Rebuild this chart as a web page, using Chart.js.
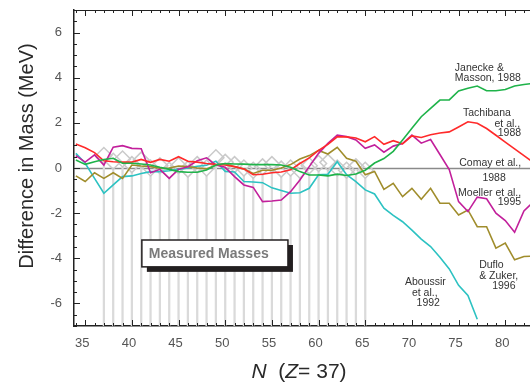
<!DOCTYPE html>
<html>
<head>
<meta charset="utf-8">
<script src="https://cdn.jsdelivr.net/npm/chart.js@4.4.1/dist/chart.umd.min.js"></script>
<style>
  html, body { margin: 0; padding: 0; background: #fff; }
</style>
</head>
<body>
<canvas id="myChart" width="530" height="387"></canvas>
<script>
// neutron number N (Z = 37)
var nValues = [34,35,36,37,38,39,40,41,42,43, 44,45,46,47,48,49,50,51,52,53,
               54,55,56,57,58,59,60,61,62,63, 64,65,66,67,68,69,70,71,72,73,
               74,75,76,77,78,79,80,81,82,83];

// mass differences (MeV)
var tachibana = [1.06,0.9,0.68,0.32,0.28,0.26,0.26,0.38,0.25,0.38,
                 0.3,0.5,0.3,0.26,0.2,0.16,0.13,0.06,-0.04,-0.3,
                 -0.28,-0.21,-0.18,-0.08,0.2,0.45,0.78,1.05,1.38,1.38,
                 1.33,1.16,1.39,1.05,1.21,1.07,1.42,1.35,1.47,1.55,
                 1.6,1.82,2.05,1.98,1.75,1.45,1.15,0.85,0.55,0.25];
var janecke = [0.35,0.16,0.28,0.38,0.43,0.21,0.21,0.18,0.13,0.03,
               -0.06,-0.16,-0.19,-0.19,-0.09,0.13,0.2,0.18,0.17,0.15,
               0.15,0.15,0.13,0.03,-0.16,-0.31,-0.31,-0.35,-0.27,-0.33,
               -0.27,-0.1,0.22,0.42,0.74,1.24,1.76,2.27,2.64,3.01,
               3.02,3.41,3.53,3.63,3.42,3.42,3.48,3.63,3.7,3.75];
var moeller = [0.55,0.26,0.58,0.13,0.92,0.99,0.87,0.85,-0.21,-0.06,
               -0.46,-0.06,0.06,0.32,0.45,0.13,0.03,-0.38,-0.75,-0.86,
               -1.49,-1.46,-1.42,-1.05,-0.53,0.06,0.65,1.09,1.46,1.39,
               1.24,0.87,1.02,0.7,0.97,1.08,1.46,1.1,1.26,0.6,
               -0.07,-1.49,-1.93,-1.29,-1.36,-2.0,-2.33,-2.85,-1.9,-1.5];
var duflo = [-0.35,-0.6,-0.21,-0.46,-0.21,-0.46,0.13,0.09,0.06,-0.01,
             0.0,0.09,0.06,0.0,-0.04,0.13,0.2,0.06,-0.04,-0.24,
             -0.1,-0.1,0.0,0.15,0.4,0.55,0.78,0.62,0.92,0.43,
             0.3,-0.3,-0.15,-0.95,-0.68,-1.27,-0.9,-1.39,-0.9,-1.56,
             -1.56,-2.08,-1.86,-2.6,-2.6,-3.55,-3.33,-4.07,-3.92,-3.9];
var aboussir = [0.65,0.21,-0.46,-1.12,-0.75,-0.38,-0.35,-0.24,-0.16,-0.16,
                -0.12,-0.06,0.0,0.08,0.12,0.3,-0.15,-0.18,-0.6,-0.62,
                -0.65,-0.88,-1.0,-1.12,-1.1,-0.9,-0.3,-0.28,0.28,-0.3,
                -0.6,-0.97,-1.15,-1.78,-2.1,-2.38,-2.75,-3.15,-3.48,-3.95,
                -4.47,-5.2,-5.65,-6.7,null,null,null,null,null,null];

// measured masses (grey diamonds)
var measuredN = [37,38,39,40,41,42,43,44,45,46,47,48,49,50,51,52,53,54,55,56,
                 57,58,59,60,61,62,63,64,65];
var measuredDiff = [0.55,0.3,0.4,0.15,0.35,0.0,0.1,-0.1,0.1,-0.05,
                    0.15,0.0,0.45,0.25,0.15,0.0,-0.1,0.05,0.15,-0.05,
                    0.0,-0.1,0.1,0.2,0.25,0.0,-0.1,0.05,-0.1];

var xTickLabels = [35,40,45,50,55,60,65,70,75,80];
var yTickLabels = [6,4,2,0,-2,-4,-6];

// text labels next to the curves (data coordinates)
var curveLabels = [
  { text: 'Janecke &', x: 74.6, y: 4.42, align: 'left' },
  { text: 'Masson, 1988', x: 74.6, y: 3.98, align: 'left' },
  { text: 'Tachibana', x: 80.6, y: 2.43, align: 'right' },
  { text: 'et al.,', x: 81.6, y: 1.95, align: 'right' },
  { text: '1988', x: 81.7, y: 1.55, align: 'right' },
  { text: 'Comay et al.,', x: 81.7, y: 0.22, align: 'right' },
  { text: '1988', x: 78.8, y: -0.44, align: 'center' },
  { text: 'Moeller et al.,', x: 81.7, y: -1.11, align: 'right' },
  { text: '1995', x: 81.7, y: -1.5, align: 'right' },
  { text: 'Duflo', x: 77.2, y: -4.29, align: 'left' },
  { text: '& Zuker,', x: 77.2, y: -4.78, align: 'left' },
  { text: '1996', x: 78.6, y: -5.22, align: 'left' },
  { text: 'Aboussir', x: 69.26, y: -5.04, align: 'left' },
  { text: 'et al.,', x: 70.0, y: -5.53, align: 'left' },
  { text: '1992', x: 70.5, y: -5.97, align: 'left' }
];
var measuredBox = { text: 'Measured Masses', x1: 41.07, x2: 56.72, y1: -3.19, y2: -4.38 };

var FONT = '"Liberation Sans", Arial, Helvetica, sans-serif';

function series(arr) {
  return nValues.map(function(n, i) { return { x: n, y: arr[i] }; });
}

function lineSet(label, arr, color) {
  return {
    type: 'line',
    label: label,
    data: series(arr),
    borderColor: color,
    borderWidth: 1.6,
    pointRadius: 0,
    tension: 0,
    spanGaps: false,
    order: 1
  };
}

// zero reference line
var zeroLine = {
  id: 'zeroLine',
  beforeDatasetsDraw: function(chart) {
    var ctx = chart.ctx, a = chart.chartArea;
    var y0 = Math.round(chart.scales.y.getPixelForValue(0)) + 0.5;
    ctx.save();
    ctx.strokeStyle = '#8a8a8a';
    ctx.lineWidth = 1.5;
    ctx.beginPath();
    ctx.moveTo(a.left, y0);
    ctx.lineTo(a.right, y0);
    ctx.stroke();
    ctx.restore();
  }
};

// inward tick marks on left, bottom and top
var axisTicks = {
  id: 'axisTicks',
  afterDatasetsDraw: function(chart) {
    var ctx = chart.ctx, a = chart.chartArea;
    var xs = chart.scales.x, ys = chart.scales.y;
    ctx.save();
    ctx.strokeStyle = '#222';
    ctx.lineWidth = 1;
    ctx.beginPath();
    ctx.moveTo(a.left, a.top + 0.5);
    ctx.lineTo(a.right, a.top + 0.5);
    for (var n = Math.ceil(xs.min); n <= xs.max; n++) {
      var px = Math.round(xs.getPixelForValue(n)) + 0.5;
      var len = n % 5 === 0 ? 6 : 3;
      ctx.moveTo(px, a.bottom);
      ctx.lineTo(px, a.bottom - len);
      ctx.moveTo(px, a.top);
      ctx.lineTo(px, a.top + len);
    }
    for (var v = ys.min; v <= ys.max + 0.01; v += 0.5) {
      var py = Math.round(ys.getPixelForValue(v)) + 0.5;
      var l = v % 2 === 0 ? 6 : 3;
      ctx.moveTo(a.left, py);
      ctx.lineTo(a.left + l, py);
    }
    ctx.stroke();
    ctx.restore();
  }
};

// curve labels, measured masses box, axis titles
var annotations = {
  id: 'annotations',
  afterDatasetsDraw: function(chart) {
    var ctx = chart.ctx, a = chart.chartArea;
    var xs = chart.scales.x, ys = chart.scales.y;
    ctx.save();

    ctx.fillStyle = '#333';
    ctx.font = '10.5px ' + FONT;
    ctx.textBaseline = 'middle';
    curveLabels.forEach(function(lb) {
      ctx.textAlign = lb.align;
      ctx.fillText(lb.text, xs.getPixelForValue(lb.x), ys.getPixelForValue(lb.y));
    });

    // box with drop shadow
    var bx1 = xs.getPixelForValue(measuredBox.x1), bx2 = xs.getPixelForValue(measuredBox.x2);
    var by1 = ys.getPixelForValue(measuredBox.y1), by2 = ys.getPixelForValue(measuredBox.y2);
    ctx.fillStyle = '#231f20';
    ctx.fillRect(bx1 + 5, by1 + 5, bx2 - bx1, by2 - by1);
    ctx.fillStyle = '#fff';
    ctx.fillRect(bx1, by1, bx2 - bx1, by2 - by1);
    ctx.strokeStyle = '#231f20';
    ctx.lineWidth = 1.5;
    ctx.strokeRect(bx1, by1, bx2 - bx1, by2 - by1);
    ctx.fillStyle = '#7a7a7a';
    ctx.font = 'bold 14px ' + FONT;
    ctx.textAlign = 'left';
    ctx.fillText(measuredBox.text, bx1 + 7, (by1 + by2) / 2 + 1);

    // y title
    ctx.fillStyle = '#2a2a2a';
    ctx.font = '20px ' + FONT;
    ctx.save();
    ctx.translate(a.left - 47, (a.top + a.bottom) / 2 - 12);
    ctx.rotate(-Math.PI / 2);
    ctx.textAlign = 'center';
    ctx.fillText('Difference in Mass (MeV)', 0, 0);
    ctx.restore();

    // x title with italic symbols
    var parts = [
      { t: 'N', it: true }, { t: '  (', it: false },
      { t: 'Z', it: true }, { t: '= 37)', it: false }
    ];
    var total = 0;
    parts.forEach(function(p) {
      ctx.font = (p.it ? 'italic ' : '') + '21px ' + FONT;
      p.w = ctx.measureText(p.t).width;
      total += p.w;
    });
    var cx = 299 - total / 2;
    ctx.textAlign = 'left';
    ctx.textBaseline = 'alphabetic';
    parts.forEach(function(p) {
      ctx.font = (p.it ? 'italic ' : '') + '21px ' + FONT;
      ctx.fillText(p.t, cx, a.bottom + 52);
      cx += p.w;
    });
    ctx.restore();
  }
};

var ctx = document.getElementById('myChart').getContext('2d');
var myChart = new Chart(ctx, {
  type: 'line',
  data: {
    datasets: [
      lineSet('Janecke & Masson, 1988', janecke, '#1fb34a'),
      lineSet('Tachibana et al., 1988', tachibana, '#ff2a2a'),
      lineSet('Moeller et al., 1995', moeller, '#c21f9b'),
      lineSet('Duflo & Zuker, 1996', duflo, '#a08d2c'),
      lineSet('Aboussir et al., 1992', aboussir, '#2cc2c2'),
      {
        type: 'line',
        label: 'Measured Masses',
        data: measuredN.map(function(n, i) { return { x: n, y: measuredDiff[i] }; }),
        showLine: false,
        pointStyle: 'rectRot',
        pointRadius: 8,
        pointBorderWidth: 1.5,
        pointBorderColor: '#cacaca',
        pointBackgroundColor: 'rgba(0,0,0,0)',
        order: 5
      },
      {
        type: 'bar',
        label: 'measured stems',
        data: measuredN.map(function(n, i) { return { x: n, y: [-7, measuredDiff[i] - 0.35] }; }),
        backgroundColor: '#dadada',
        barThickness: 1.6,
        order: 6
      }
    ]
  },
  options: {
    responsive: false,
    animation: false,
    events: [],
    layout: { autoPadding: false, padding: { top: 10, right: 0, left: 0, bottom: 0 } },
    plugins: {
      legend: { display: false },
      tooltip: { enabled: false }
    },
    scales: {
      x: {
        type: 'linear',
        min: 33.8,
        max: 82.65,
        offset: false,
        afterBuildTicks: function(scale) {
          scale.ticks = xTickLabels.map(function(v) { return { value: v }; });
        },
        afterFit: function(scale) {
          scale.height = 61;
          scale.paddingLeft = 0;
          scale.paddingRight = 0;
        },
        grid: { display: false, drawTicks: false },
        border: { display: true, color: '#222', width: 1.5 },
        ticks: {
          padding: 10,
          labelOffset: -3,
          color: '#555',
          font: { family: FONT, size: 13 },
          maxRotation: 0,
          autoSkip: false
        }
      },
      y: {
        type: 'linear',
        min: -7,
        max: 7,
        afterBuildTicks: function(scale) {
          scale.ticks = yTickLabels.map(function(v) { return { value: v }; });
        },
        afterFit: function(scale) {
          scale.width = 74;
          scale.paddingTop = 0;
          scale.paddingBottom = 0;
        },
        grid: { display: false, drawTicks: false },
        border: { display: true, color: '#222', width: 1.5 },
        ticks: {
          padding: 12,
          color: '#555',
          font: { family: FONT, size: 13 },
          autoSkip: false
        }
      }
    }
  },
  plugins: [zeroLine, axisTicks, annotations]
});
</script>
</body>
</html>
